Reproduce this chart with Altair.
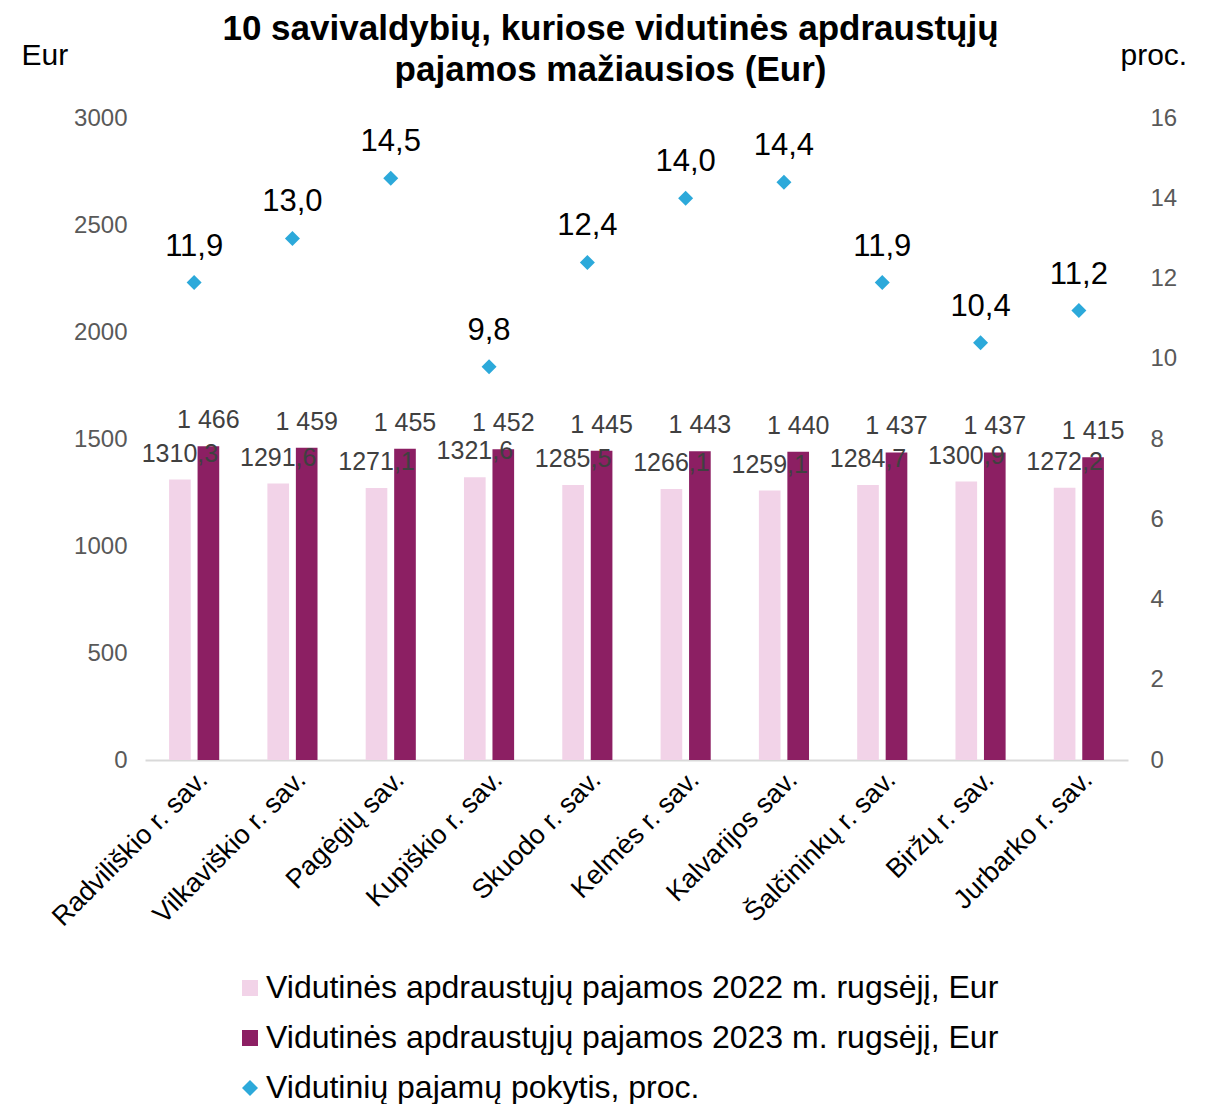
import altair as alt
import pandas as pd

municipalities = [
    "Radviliškio r. sav.", "Vilkaviškio r. sav.", "Pagėgių sav.", "Kupiškio r. sav.",
    "Skuodo r. sav.", "Kelmės r. sav.", "Kalvarijos sav.", "Šalčininkų r. sav.",
    "Biržų r. sav.", "Jurbarko r. sav.",
]
income_2022 = [1310.3, 1291.6, 1271.1, 1321.6, 1285.5, 1266.1, 1259.1, 1284.7, 1300.9, 1272.2]
income_2023 = [1466, 1459, 1455, 1452, 1445, 1443, 1440, 1437, 1437, 1415]
change_pct = [11.9, 13.0, 14.5, 9.8, 12.4, 14.0, 14.4, 11.9, 10.4, 11.2]

S22 = "Vidutinės apdraustųjų pajamos 2022 m. rugsėjį, Eur"
S23 = "Vidutinės apdraustųjų pajamos 2023 m. rugsėjį, Eur"
SP = "Vidutinių pajamų pokytis, proc."
series_order = [S22, S23, SP]

FONT = "Liberation Sans"


def fmt_dec(v):
    return f"{v:.1f}".replace(".", ",")


def fmt_int(v):
    return f"{int(round(v)):,}".replace(",", " ")


bars_df = pd.DataFrame({
    "muni": municipalities * 2,
    "series": [S22] * len(municipalities) + [S23] * len(municipalities),
    "value": income_2022 + income_2023,
    "label": [fmt_dec(v) for v in income_2022] + [fmt_int(v) for v in income_2023],
})
pct_df = pd.DataFrame({
    "muni": municipalities,
    "series": [SP] * len(municipalities),
    "pct": change_pct,
    "label": [fmt_dec(v) for v in change_pct],
})

color_scale = alt.Scale(domain=series_order, range=["#F2D3E8", "#8C1F63", "#2CA9DA"])
shape_scale = alt.Scale(domain=series_order, range=["square", "square", "diamond"])

x_enc = alt.X(
    "muni:N", sort=municipalities,
    scale=alt.Scale(paddingInner=0.49, paddingOuter=0.245),
    axis=alt.Axis(title=None, labelAngle=-45, labelFontSize=27, labelColor="#000000",
                  domainColor="#D9D9D9", domainWidth=2, ticks=False, labelPadding=6,
                  labelLimit=0),
)
xoff = alt.XOffset("series:N", sort=[S22, S23], scale=alt.Scale(paddingInner=0.24))

y_left = alt.Y(
    "value:Q", scale=alt.Scale(domain=[0, 3000]),
    axis=alt.Axis(values=list(range(0, 3001, 500)), format="d", title="Eur", titleAngle=0,
                  titleX=-124, titleY=-54, titleAlign="left", titleBaseline="alphabetic",
                  titleFontSize=30, titleFontWeight="normal", titleColor="#000000",
                  labelFontSize=24, labelColor="#595959", domain=False, ticks=False,
                  grid=False, labelPadding=18),
)
y_right = alt.Y(
    "pct:Q", scale=alt.Scale(domain=[0, 16]),
    axis=alt.Axis(orient="right", values=list(range(0, 17, 2)), format="d", title="proc.",
                  titleAngle=0, titleX=-8, titleY=-54, titleAlign="left",
                  titleBaseline="alphabetic", titleFontSize=30, titleFontWeight="normal",
                  titleColor="#000000", labelFontSize=24, labelColor="#595959",
                  domain=False, ticks=False, grid=False, labelPadding=22),
)

bars = alt.Chart(bars_df).mark_bar().encode(
    x=x_enc, xOffset=xoff, y=y_left,
    color=alt.Color("series:N", scale=color_scale, legend=alt.Legend(title=None)),
)
bar_text = alt.Chart(bars_df).mark_text(
    baseline="middle", dy=-26, fontSize=25, color="#404040", font=FONT
).encode(x=x_enc, xOffset=xoff, y=y_left, text="label:N")

points = alt.Chart(pct_df).mark_point(filled=True, size=225, opacity=1).encode(
    x=x_enc, y=y_right,
    color=alt.Color("series:N", scale=color_scale, legend=alt.Legend(title=None)),
    shape=alt.Shape("series:N", scale=shape_scale, legend=alt.Legend(title=None)),
)
pct_text = alt.Chart(pct_df).mark_text(
    baseline="middle", dy=-36, fontSize=31, color="#000000", font=FONT
).encode(x=x_enc, y=y_right, text="label:N")

chart = alt.layer(
    alt.layer(bars, bar_text), alt.layer(points, pct_text)
).resolve_scale(y="independent").properties(
    width=983, height=642,
    padding={"left": 13, "top": 4, "right": 5, "bottom": 0},
    title=alt.TitleParams(
        text=["10 savivaldybių, kuriose vidutinės apdraustųjų", "pajamos mažiausios (Eur)"],
        fontSize=35, font=FONT, fontWeight="bold", color="#000000", lineHeight=41,
        anchor="middle", offset=-48, dx=-26,
    ),
).configure(font=FONT).configure_view(stroke=None).configure_legend(
    orient="none", legendX=89, legendY=854, direction="vertical",
    labelFontSize=32, labelColor="#000000", labelFont=FONT, symbolSize=256,
    rowPadding=18, labelOffset=0, symbolStrokeWidth=0, padding=0, labelLimit=0,
    symbolOpacity=1,
)

chart.save("out.html", embed_options={"renderer": "svg", "actions": False})
